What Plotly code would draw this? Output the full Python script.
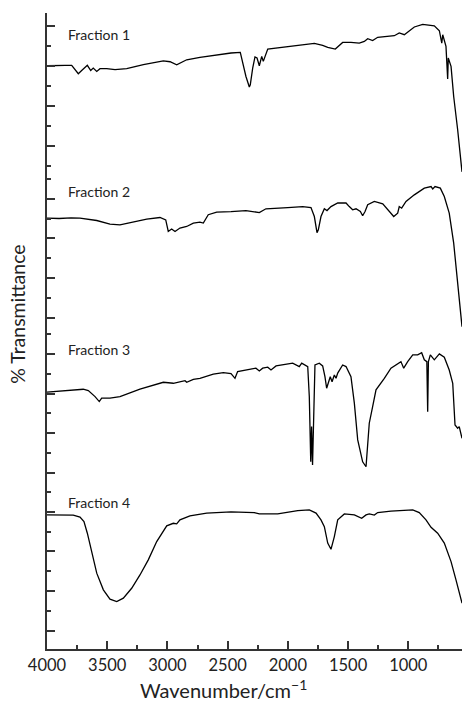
import plotly.graph_objects as go
from plotly.subplots import make_subplots

# FTIR spectra of four fractions (wavenumber in cm-1, % transmittance)
wn1 = [4000, 3900, 3850, 3795, 3740, 3712, 3665, 3637, 3616, 3587, 3560, 3504, 3435, 3338,
       3200, 3034, 2978, 2923, 2881, 2840, 2730, 2591, 2472, 2395, 2375, 2348, 2320, 2312,
       2292, 2273, 2256, 2237, 2217, 2204, 2167, 2057, 1918, 1780, 1711, 1669, 1606, 1545,
       1476, 1407, 1365, 1337, 1296, 1254, 1116, 1075, 1033, 950, 880, 826, 784, 742, 722,
       714, 687, 673, 668, 645, 623, 590, 554]
t1 = [60.2, 60.1, 60.4, 60.4, 56.2, 57.8, 60.4, 57.8, 59.0, 57.3, 58.7, 58.7, 58.2, 58.7,
      60.7, 62.6, 62.2, 60.7, 62.1, 63.2, 64.4, 65.6, 66.6, 66.9, 61.6, 54.8, 49.5, 50.6,
      59.0, 64.6, 64.1, 60.2, 64.9, 62.4, 68.6, 69.4, 70.4, 71.4, 70.4, 69.4, 68.6, 71.9,
      71.9, 71.6, 72.4, 73.8, 72.9, 74.5, 75.3, 76.7, 75.8, 79.7, 81.0, 80.5, 80.3, 77.8, 71.6,
      75.8, 69.9, 53.5, 64.1, 59.9, 44.7, 28.0, 6.8]

wn2 = [4000, 3900, 3800, 3726, 3587, 3477, 3394, 3283, 3172, 3062, 3014, 2993, 2965, 2937,
       2896, 2840, 2785, 2730, 2702, 2661, 2591, 2472, 2348, 2237, 2182, 2001, 1877, 1808,
       1780, 1758, 1747, 1725, 1697, 1675, 1642, 1586, 1517, 1490, 1462, 1434, 1398, 1379,
       1359, 1337, 1282, 1212, 1171, 1121, 1088, 1075, 1055, 1019, 950, 867, 811, 797, 778,
       734, 701, 660, 623, 590, 554]
t2 = [70.2, 70.0, 70.3, 70.2, 69.0, 67.2, 66.8, 68.2, 69.7, 70.5, 69.3, 63.5, 64.7, 63.5,
      65.2, 66.0, 67.7, 68.2, 67.7, 71.9, 73.2, 73.5, 74.0, 73.0, 74.9, 75.5, 76.0, 75.5,
      71.0, 62.9, 64.3, 71.0, 74.9, 74.0, 76.0, 77.8, 77.8, 76.0, 74.4, 74.9, 73.5, 71.4,
      73.5, 76.9, 78.6, 77.4, 74.7, 71.0, 72.7, 76.0, 75.2, 78.6, 81.9, 85.3, 86.1, 84.9, 86.1,
      85.3, 81.1, 72.7, 57.6, 39.1, 15.6]

wn3 = [4000, 3699, 3657, 3601, 3566, 3546, 3477, 3394, 3228, 3034, 2951, 2881, 2854, 2840,
       2785, 2730, 2619, 2536, 2472, 2439, 2417, 2265, 2237, 2209, 2167, 2140, 2098, 1960,
       1905, 1885, 1849, 1835, 1822, 1810, 1803, 1795, 1775, 1739, 1711, 1692, 1678, 1664,
       1648, 1633, 1614, 1600, 1586, 1545, 1517, 1476, 1448, 1420, 1379, 1351, 1324, 1296,
       1268, 1199, 1144, 1061, 1038, 1005, 963, 922, 889, 867, 846, 839, 833, 817, 784, 742,
       701, 660, 631, 612, 590, 577, 554]
t3 = [60.7, 62.2, 61.5, 58.5, 56.0, 57.7, 57.7, 58.5, 62.2, 65.7, 65.2, 66.0, 66.5, 65.7,
      67.2, 67.7, 69.8, 70.6, 70.1, 67.7, 71.1, 72.8, 71.4, 72.8, 73.3, 71.9, 73.9, 75.3,
      73.6, 75.3, 73.9, 73.6, 58.5, 25.7, 43.4, 24.1, 74.4, 75.3, 73.9, 68.5, 62.7, 65.2,
      68.5, 66.0, 69.4, 67.7, 70.3, 74.4, 73.6, 68.5, 55.2, 36.7, 25.7, 23.2, 45.1, 53.4,
      61.9, 67.7, 72.8, 76.1, 72.8, 76.1, 79.5, 79.5, 80.6, 77.0, 76.1, 50.9, 76.1, 79.5, 77.0, 80.0,
      78.3, 71.9, 65.2, 44.2, 42.6, 43.4, 37.5]

wn4 = [4000, 3948, 3850, 3782, 3726, 3693, 3665, 3629, 3587, 3532, 3477, 3421, 3366, 3297,
       3228, 3159, 3089, 3006, 2951, 2923, 2896, 2813, 2674, 2472, 2279, 2237, 2084, 1918,
       1822, 1766, 1725, 1697, 1669, 1642, 1614, 1586, 1531, 1448, 1387, 1351, 1324, 1282,
       1254, 1144, 1033, 963, 909, 853, 811, 756, 701, 645, 604, 554]
t4 = [78.4, 78.4, 78.5, 78.3, 77.3, 75.0, 69.2, 59.1, 49.1, 40.7, 36.0, 34.8, 36.5, 41.5,
      48.2, 55.8, 65.0, 72.9, 74.2, 73.9, 75.9, 77.9, 79.3, 79.9, 79.6, 78.9, 78.9, 80.6,
      80.9, 79.3, 75.9, 72.5, 64.2, 61.1, 67.5, 75.9, 78.9, 78.4, 76.7, 78.4, 78.9, 78.3,
      79.6, 80.3, 80.6, 80.9, 79.6, 75.9, 72.2, 69.2, 64.2, 54.9, 45.7, 34.0]

labels = ["Fraction 1", "Fraction 2", "Fraction 3", "Fraction 4"]
label_wn = 3845
label_t = [75.8, 83.6, 82.0, 84.8]
y_ranges = [[6.73, 86.73], [13.4, 93.4], [11.5, 91.5], [10.94, 90.94]]
x_range = [4000, 554]

series = [(wn1, t1), (wn2, t2), (wn3, t3), (wn4, t4)]

AXIS = "#333333"
FONT = "Lato, 'Open Sans', sans-serif"

fig = make_subplots(rows=4, cols=1, shared_xaxes=True, vertical_spacing=0)

for i, (wn, t) in enumerate(series, start=1):
    fig.add_trace(
        go.Scatter(x=wn, y=t, mode="lines", line=dict(color="black", width=1.3),
                   showlegend=False, hoverinfo="skip"),
        row=i, col=1,
    )
    fig.update_yaxes(
        range=y_ranges[i - 1], tickmode="linear", tick0=0, dtick=20,
        ticks="inside", ticklen=8, tickwidth=1.5, tickcolor=AXIS,
        minor=dict(tick0=0, dtick=10, ticks="inside", ticklen=4, tickwidth=1.5,
                   tickcolor=AXIS, showgrid=False),
        showticklabels=False, showgrid=False, zeroline=False,
        showline=True, linecolor=AXIS, linewidth=2,
        row=i, col=1,
    )
    if i < 4:
        fig.update_xaxes(range=x_range, showline=False, ticks="", showticklabels=False,
                         showgrid=False, zeroline=False, row=i, col=1)

fig.update_xaxes(
    range=x_range, tickmode="linear", tick0=0, dtick=500,
    ticks="inside", ticklen=8, tickwidth=1.5, tickcolor=AXIS,
    minor=dict(tick0=0, dtick=250, ticks="inside", ticklen=4, tickwidth=1.5,
               tickcolor=AXIS, showgrid=False),
    showticklabels=True, tickfont=dict(family=FONT, size=16.5, color="#222222"),
    showgrid=False, zeroline=False, showline=True, linecolor=AXIS, linewidth=2,
    row=4, col=1,
)

yrefs = ["y", "y2", "y3", "y4"]
for lab, yv, yr in zip(labels, label_t, yrefs):
    fig.add_annotation(x=label_wn, y=yv, xref="x", yref=yr, text=lab, showarrow=False,
                       xanchor="left", yanchor="middle",
                       font=dict(family=FONT, size=14, color="#222222"))

fig.add_annotation(x=0.4265, y=-0.063, xref="paper", yref="paper",
                   text="Wavenumber/cm<sup>\u22121</sup>", showarrow=False,
                   xanchor="center", yanchor="middle",
                   font=dict(family=FONT, size=20, color="#222222"))
fig.add_annotation(x=-0.07, y=0.527, xref="paper", yref="paper",
                   text="% Transmittance", showarrow=False, textangle=-90,
                   xanchor="center", yanchor="middle",
                   font=dict(family=FONT, size=19.5, color="#222222"))

fig.update_layout(
    width=462, height=702,
    margin=dict(l=47, r=0, t=13, b=53),
    paper_bgcolor="white", plot_bgcolor="white",
    showlegend=False,
)

fig.write_html("out.html")
